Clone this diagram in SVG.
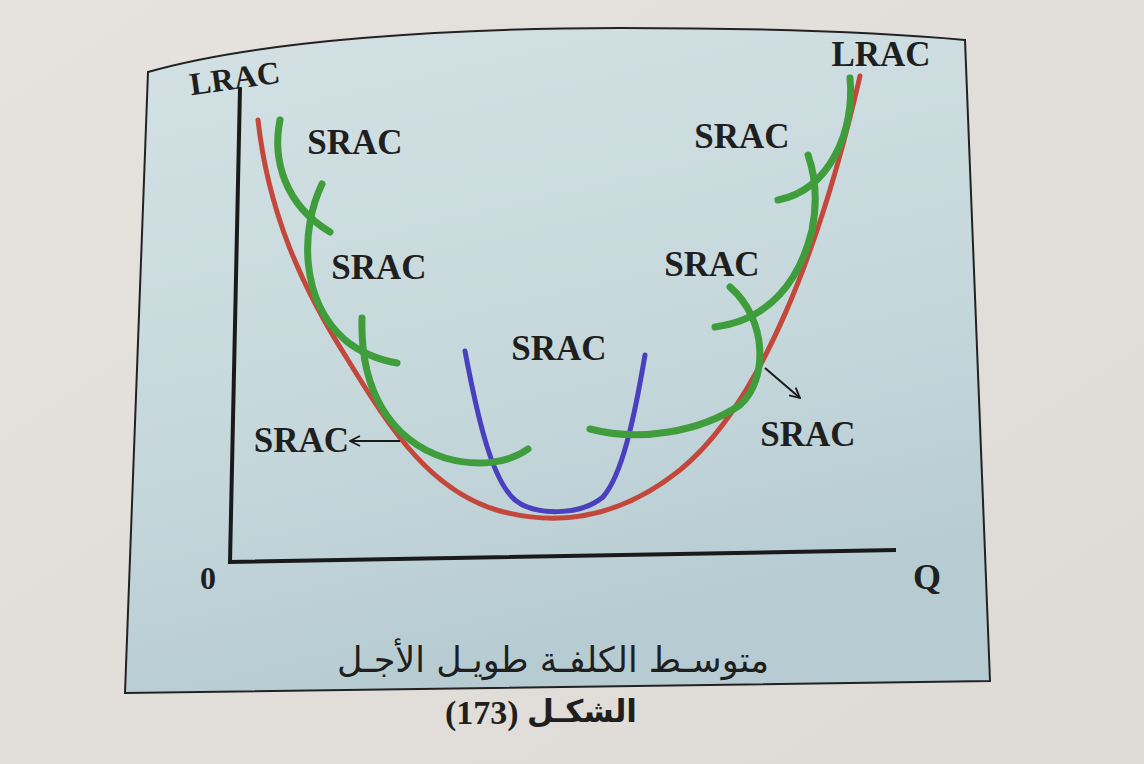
<svg xmlns="http://www.w3.org/2000/svg" width="1144" height="764" viewBox="0 0 1144 764">
<defs>
<linearGradient id="paper" x1="0" y1="0" x2="1" y2="1">
<stop offset="0" stop-color="#e6e3df"/>
<stop offset="1" stop-color="#dedbd6"/>
</linearGradient>
<linearGradient id="panel" x1="0" y1="0" x2="0.3" y2="1">
<stop offset="0" stop-color="#d3e1e4"/>
<stop offset="0.6" stop-color="#c6d8dc"/>
<stop offset="1" stop-color="#b6ccd2"/>
</linearGradient>
<marker id="arr" viewBox="0 0 12 12" refX="11" refY="6" markerWidth="12" markerHeight="12" markerUnits="userSpaceOnUse" orient="auto">
<path d="M1,1 L11,6 L1,11" fill="none" stroke="#1a1a1a" stroke-width="1.8"/>
</marker>
<style>
.lbl{font-family:"Liberation Serif","Times New Roman",serif;font-weight:bold;fill:#1f1f1f}
.srac{font-size:35px;text-anchor:middle}
.lr{stroke:#c4473c;stroke-width:5;fill:none;stroke-linecap:round}
.sg{stroke:#3f9e3b;stroke-width:7;fill:none;stroke-linecap:round}
.sb{stroke:#4a3fbf;stroke-width:5;fill:none;stroke-linecap:round}
.ax{stroke:#1a1a1a;stroke-width:4;fill:none}
.ptr{stroke:#1a1a1a;stroke-width:2;fill:none}
.ar{font-family:"DejaVu Sans","Noto Sans",sans-serif;fill:#1f1f1f}
</style>
</defs>
<rect width="1144" height="764" fill="url(#paper)"/>
<g id="panel">
<path d="M148,72 C 260,40 450,28 620,28 C 800,28 900,34 965,40 L990,681 L125,693 Z" fill="url(#panel)" stroke="#222" stroke-width="2"/>
</g>
<g id="axes">
<path class="ax" d="M240,88 L230,562 L896,550"/>
<text class="lbl" x="235" y="89" font-size="32" text-anchor="middle" transform="rotate(-8 235 80)">LRAC</text>
<text class="lbl" x="881" y="66" font-size="35" text-anchor="middle">LRAC</text>
<text class="lbl" x="208" y="589" font-size="32" text-anchor="middle">0</text>
<text class="lbl" x="927" y="589" font-size="36" text-anchor="middle">Q</text>
</g>
<g id="lrac-curve">
<path class="lr" d="M258,120 C 268,210 300,285 348,360 C 392,432 432,492 500,511 C 560,527 620,518 680,470 C 760,405 820,250 860,76"/>
</g>
<g id="srac-blue">
<path class="sb" d="M465,351 C 478,420 492,480 515,500 C 535,516 580,516 603,497 C 622,475 634,420 645,355"/>
</g>
<g id="srac-green">
<path class="sg" d="M280,120 C 272,160 285,205 330,232"/>
<path class="sg" d="M322,184 C 300,230 300,300 345,340 C 362,354 380,360 397,363"/>
<path class="sg" d="M362,318 C 360,390 390,440 445,458 C 480,468 510,462 528,449"/>
<path class="sg" d="M590,429 C 640,442 700,432 740,405 C 768,380 768,320 730,287"/>
<path class="sg" d="M715,327 C 770,320 800,280 812,230 C 818,200 815,175 808,155"/>
<path class="sg" d="M778,200 C 830,190 855,130 850,78"/>
</g>
<g id="connectors">
<line class="ptr" x1="400" y1="441" x2="350" y2="441" marker-end="url(#arr)"/>
<line class="ptr" x1="765" y1="368" x2="800" y2="398" marker-end="url(#arr)"/>
</g>
<g id="labels">
<text class="lbl srac" x="355" y="154">SRAC</text>
<text class="lbl srac" x="379" y="279">SRAC</text>
<text class="lbl srac" x="559" y="360">SRAC</text>
<text class="lbl srac" x="742" y="148">SRAC</text>
<text class="lbl srac" x="712" y="276">SRAC</text>
<text class="lbl srac" x="808" y="446">SRAC</text>
<text class="lbl" x="349" y="452" font-size="35" text-anchor="end">SRAC</text>
</g>
<g id="caption">
<text class="ar" x="553" y="672" font-size="35" text-anchor="middle">متوسـط الكلفـة طويـل الأجـل</text>
<text class="ar" x="637" y="722" font-size="31" font-weight="bold" text-anchor="end">الشكـل</text>
<text class="lbl" x="445" y="724" font-size="34" text-anchor="start">(173)</text>
</g>
</svg>
